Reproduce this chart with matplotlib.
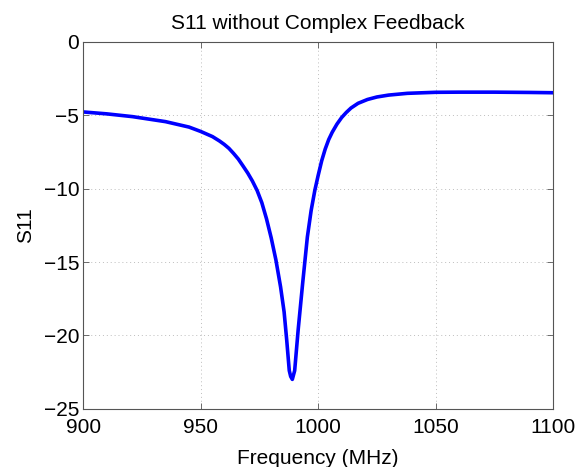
import matplotlib
matplotlib.use("Agg")
import matplotlib.pyplot as plt

freq_mhz = [900, 910, 921, 935, 945, 950, 955, 958, 960, 962, 964, 966, 968, 970,
            972, 974, 976, 978, 980, 982, 984, 985.5, 986.6, 987.7, 988.3, 989,
            990, 991.5, 993.4, 995.4, 997, 998.6, 1000, 1001.5, 1003, 1004.5, 1006,
            1008, 1010, 1012, 1014, 1017, 1021, 1025, 1030, 1038, 1050, 1060, 1075,
            1090, 1100]
s11_db = [-4.77, -4.9, -5.09, -5.43, -5.8, -6.1, -6.45, -6.75, -6.98, -7.25, -7.6,
          -7.98, -8.45, -8.93, -9.48, -10.12, -10.95, -12.05, -13.35, -14.85, -16.7,
          -18.4, -20.3, -22.4, -22.8, -23.0, -22.4, -19.6, -16.45, -13.3, -11.5,
          -10.1, -9.1, -8.1, -7.3, -6.65, -6.15, -5.6, -5.15, -4.8, -4.5, -4.18,
          -3.92, -3.75, -3.62, -3.5, -3.43, -3.42, -3.42, -3.44, -3.46]

xticks = [900, 950, 1000, 1050, 1100]
yticks = [0, -5, -10, -15, -20, -25]

plt.rcParams['font.family'] = ['Liberation Sans', 'DejaVu Sans']

fig = plt.figure(figsize=(5.81, 4.67), dpi=100)
ax = fig.add_axes([0.1434, 0.1248, 0.8084, 0.7853])

ax.plot(freq_mhz, s11_db, color='#0000ff', linewidth=2.6,
        solid_joinstyle='round', solid_capstyle='round')

ax.set_xlim(900, 1100)
ax.set_ylim(-25, 0)
ax.set_xticks(xticks)
ax.set_yticks(yticks)
ax.set_xticklabels([str(t) for t in xticks])
ax.set_yticklabels([('\u2212' + str(-t)) if t < 0 else str(t) for t in yticks])

ax.grid(True, linestyle=(0, (1, 3)), color='#bdbdbd', linewidth=0.7)
ax.tick_params(direction='in', length=4.3, width=0.6, top=True, right=True,
               labelsize=15, colors='#555555', labelcolor='black')
ax.tick_params(axis='x', pad=7)
ax.tick_params(axis='y', pad=3)
for s in ax.spines.values():
    s.set_color('#555555')
    s.set_linewidth(0.8)

ax.set_title('S11 without Complex Feedback', fontsize=15, pad=9)
ax.set_xlabel('Frequency (MHz)', fontsize=15, labelpad=8)
ax.set_ylabel('S11', fontsize=15, labelpad=6)

fig.savefig('out.png', dpi=100)
